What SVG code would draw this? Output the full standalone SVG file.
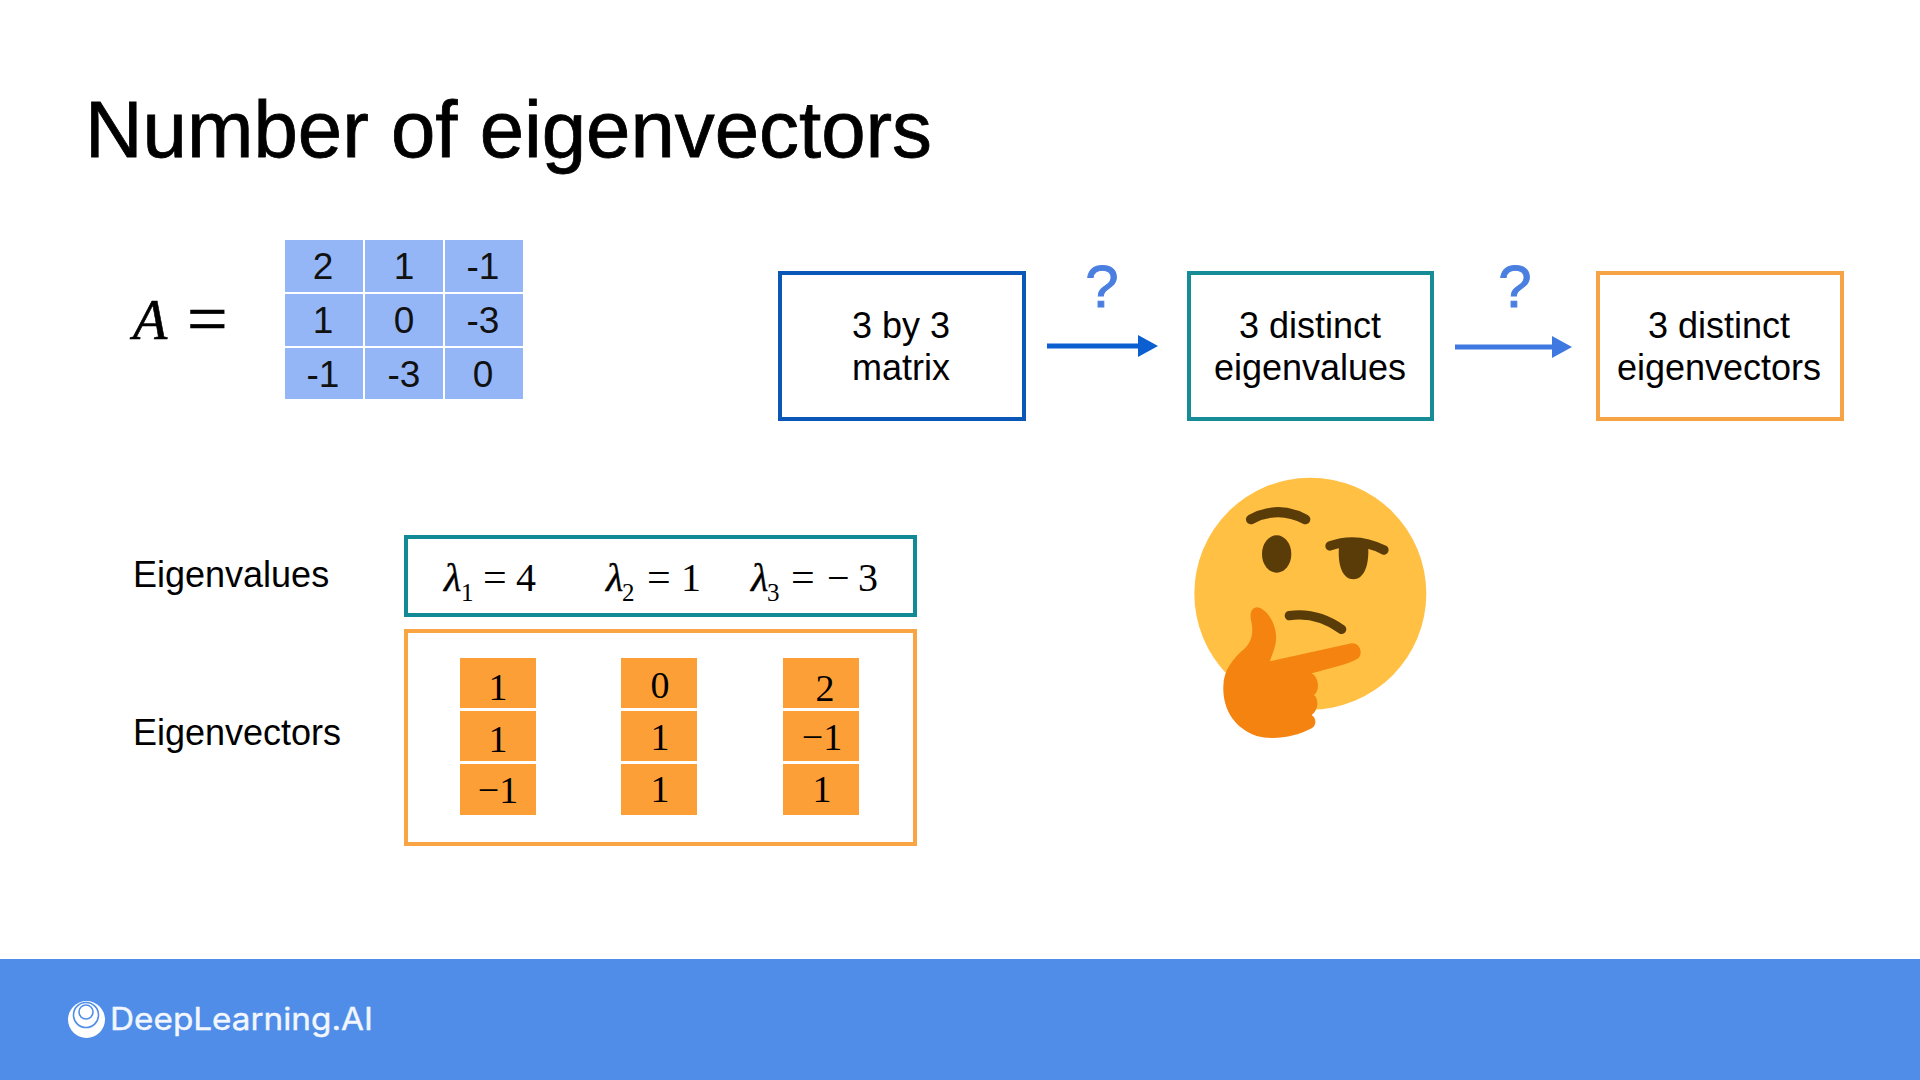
<svg xmlns="http://www.w3.org/2000/svg" width="1920" height="1080" viewBox="0 0 1920 1080">
<defs>
<style>
.sans{font-family:"Liberation Sans",Arial,sans-serif;fill:#000}
.serif{font-family:"Liberation Serif","Times New Roman",serif;fill:#000}
.ital{font-style:italic}
.mid{text-anchor:middle}
.cell{fill:#94b6f7}
.ocell{fill:#fd9f37}
.mt{font-size:37px;fill:#111}
.vt{font-size:38px}
.eq{font-size:40px}
.es{font-size:42px}
.sub{font-size:25px}
.bt{font-size:36px}
.lb{font-size:36px}
.box{fill:#fff;stroke-width:4px}
.q{font-size:60px;fill:#4a7fe0;stroke:#4a7fe0;stroke-width:1px}
</style>
<marker id="ah1" markerUnits="userSpaceOnUse" markerWidth="20" markerHeight="22" refX="1" refY="11" orient="auto"><path d="M0 0L20 11L0 22Z" fill="#0b5fd0"/></marker>
<marker id="ah2" markerUnits="userSpaceOnUse" markerWidth="20" markerHeight="22" refX="1" refY="11" orient="auto"><path d="M0 0L20 11L0 22Z" fill="#3f78e0"/></marker>
</defs>
<rect width="1920" height="1080" fill="#fff"/>
<text id="title" class="sans" x="85" y="157" font-size="80" textLength="847" lengthAdjust="spacingAndGlyphs" stroke="#000" stroke-width=".8">Number of eigenvectors</text>

<g id="matrix-a">
<text class="serif ital" x="133" y="339" font-size="56" stroke="#000" stroke-width=".6">A</text>
<text class="serif" x="187" y="343" font-size="72" stroke="#000" stroke-width=".6">=</text>
<rect class="cell" x="285" y="240" width="78" height="52"/><rect class="cell" x="365" y="240" width="78" height="52"/><rect class="cell" x="445" y="240" width="78" height="52"/>
<rect class="cell" x="285" y="294" width="78" height="52"/><rect class="cell" x="365" y="294" width="78" height="52"/><rect class="cell" x="445" y="294" width="78" height="52"/>
<rect class="cell" x="285" y="348" width="78" height="51"/><rect class="cell" x="365" y="348" width="78" height="51"/><rect class="cell" x="445" y="348" width="78" height="51"/>
<g class="sans mid mt">
<text x="323" y="279">2</text><text x="404" y="279">1</text><text x="483" y="279">-1</text>
<text x="323" y="333">1</text><text x="404" y="333">0</text><text x="483" y="333">-3</text>
<text x="323" y="387">-1</text><text x="404" y="387">-3</text><text x="483" y="387">0</text>
</g>
</g>

<g id="node-matrix">
<rect class="box" x="780" y="273" width="244" height="146" stroke="#0b57b8"/>
<text class="sans mid bt" x="901" y="338">3 by 3</text>
<text class="sans mid bt" x="901" y="380">matrix</text>
</g>
<g id="node-eigenvalues">
<rect class="box" x="1189" y="273" width="243" height="146" stroke="#168c96"/>
<text class="sans mid bt" x="1310" y="338">3 distinct</text>
<text class="sans mid bt" x="1310" y="380">eigenvalues</text>
</g>
<g id="node-eigenvectors">
<rect class="box" x="1598" y="273" width="244" height="146" stroke="#f5a344"/>
<text class="sans mid bt" x="1719" y="338">3 distinct</text>
<text class="sans mid bt" x="1719" y="380">eigenvectors</text>
</g>

<g id="connectors" fill="none" stroke-width="5">
<line x1="1047" y1="346" x2="1139" y2="346" stroke="#0b5fd0" marker-end="url(#ah1)"/>
<line x1="1455" y1="347" x2="1553" y2="347" stroke="#3f78e0" marker-end="url(#ah2)"/>
</g>
<text id="q1" class="sans mid q" x="1102" y="307">?</text>
<text id="q2" class="sans mid q" x="1515" y="307">?</text>

<g id="label-eigenvalues"><text class="sans lb" x="133" y="587">Eigenvalues</text></g>
<g id="label-eigenvectors"><text class="sans lb" x="133" y="745">Eigenvectors</text></g>

<g id="eigenvalues-box">
<text class="serif ital eq" x="444" y="591" stroke="#000" stroke-width=".4">λ</text><text class="serif sub" x="461" y="601">1</text><text class="serif es" x="483" y="591">=</text><text class="serif eq" x="516" y="591">4</text>
<text class="serif ital eq" x="606" y="591" stroke="#000" stroke-width=".4">λ</text><text class="serif sub" x="622" y="601">2</text><text class="serif es" x="647" y="591">=</text><text class="serif eq" x="681" y="591">1</text>
<text class="serif ital eq" x="751" y="591" stroke="#000" stroke-width=".4">λ</text><text class="serif sub" x="767" y="601">3</text><text class="serif es" x="791" y="591">=</text><text class="serif eq" x="827" y="591">−</text><text class="serif eq" x="858" y="591">3</text>
<rect class="box" x="406" y="537" width="509" height="78" stroke="#128a96" fill="none" style="fill:none"/>
</g>

<g id="eigenvectors-box">
<rect class="box" x="406" y="631" width="509" height="213" stroke="#f9a544"/>
<rect class="ocell" x="460" y="658" width="76" height="50"/><rect class="ocell" x="460" y="711" width="76" height="50"/><rect class="ocell" x="460" y="764" width="76" height="51"/>
<rect class="ocell" x="621" y="658" width="76" height="50"/><rect class="ocell" x="621" y="711" width="76" height="50"/><rect class="ocell" x="621" y="764" width="76" height="51"/>
<rect class="ocell" x="783" y="658" width="76" height="50"/><rect class="ocell" x="783" y="711" width="76" height="50"/><rect class="ocell" x="783" y="764" width="76" height="51"/>
<g class="serif mid vt">
<text x="498" y="700">1</text><text x="498" y="752">1</text><text x="498" y="803">−1</text>
<text x="660" y="698">0</text><text x="660" y="750">1</text><text x="660" y="802">1</text>
<text x="825" y="701">2</text><text x="822" y="750">−1</text><text x="822" y="802">1</text>
</g>
</g>

<g id="thinking-emoji" transform="translate(1170 460) scale(.3333)">
<circle cx="421" cy="401" r="348" fill="#ffc044"/>
<g fill="none" stroke="#5a3c08" stroke-linecap="round">
<path d="M243 178Q325 135 406 178" stroke-width="30"/>
<path d="M480 258Q560 228 642 270" stroke-width="28"/>
<path d="M358 467Q440 455 515 508" stroke-width="28"/>
</g>
<ellipse cx="320" cy="282" rx="44" ry="56" fill="#5a3c08"/>
<path d="M508 250L594 250C600 320 580 358 550 358C520 358 500 320 508 250Z" fill="#5a3c08"/>
<path d="M262 442C295 448 322 500 318 540C316 565 305 585 300 604L545 550C570 548 580 580 565 595C540 612 480 625 425 640C445 650 452 690 432 705C448 720 445 750 425 765C440 775 440 795 425 805C380 830 310 842 260 828C195 805 158 750 160 680C160 630 190 595 225 565C245 545 250 520 245 490C238 465 242 442 262 442Z" fill="#f4830f"/>
</g>

<g id="footer">
<rect y="959" width="1920" height="121" fill="#4f8de8"/>
<circle cx="86.5" cy="1019.5" r="18.5" fill="#fff"/>
<circle cx="86" cy="1015" r="12.5" fill="none" stroke="#4f8de8" stroke-width="1.6"/>
<circle cx="86" cy="1012" r="7" fill="none" stroke="#4f8de8" stroke-width="1.6"/>
<text x="110" y="1030" font-family="Inter,'Liberation Sans',sans-serif" font-size="31" fill="#f2f7ff" stroke="#f2f7ff" stroke-width=".4" textLength="263" lengthAdjust="spacingAndGlyphs">DeepLearning.AI</text>
</g>
</svg>
